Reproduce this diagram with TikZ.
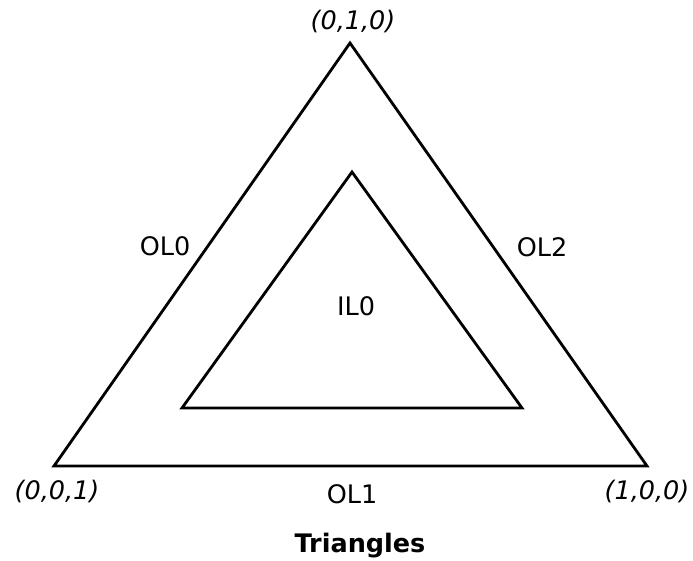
\documentclass[tikz,border=0pt]{standalone}
\usepackage{fontspec}
\setmainfont{DejaVu Sans}
\begin{document}
\begin{tikzpicture}[x=1pt,y=-1pt,
  edge/.style={draw=black,line width=2.8pt,line join=miter},
  lbl/.style={inner sep=0pt,anchor=base,font=\fontsize{25.5}{30}\selectfont},
  corner/.style={lbl,font=\fontsize{25.5}{30}\selectfont\itshape},
  titlelbl/.style={lbl,font=\fontsize{25.5}{30}\selectfont\bfseries}]
\useasboundingbox (0,0) rectangle (693,560);
% outer triangle
\coordinate (otop) at (350,43);
\coordinate (oleft) at (54,466);
\coordinate (oright) at (647,466);
% inner triangle
\coordinate (itop) at (352,172);
\coordinate (ileft) at (182,408);
\coordinate (iright) at (522,408);
\draw[edge] (otop) -- (oleft) -- (oright) -- cycle;
\draw[edge] (itop) -- (ileft) -- (iright) -- cycle;
% labels
\node[corner] (c010) at (353,29) {(0,1,0)};
\node[corner] (c001) at (57,499) {(0,0,1)};
\node[corner] (c100) at (647,499) {(1,0,0)};
\node[lbl] (ol0) at (165,255) {OL0};
\node[lbl] (ol2) at (542,256) {OL2};
\node[lbl] (ol1) at (352,503) {OL1};
\node[lbl] (il0) at (356,315) {IL0};
\node[titlelbl] (title) at (360,552) {Triangles};
\end{tikzpicture}
\end{document}
